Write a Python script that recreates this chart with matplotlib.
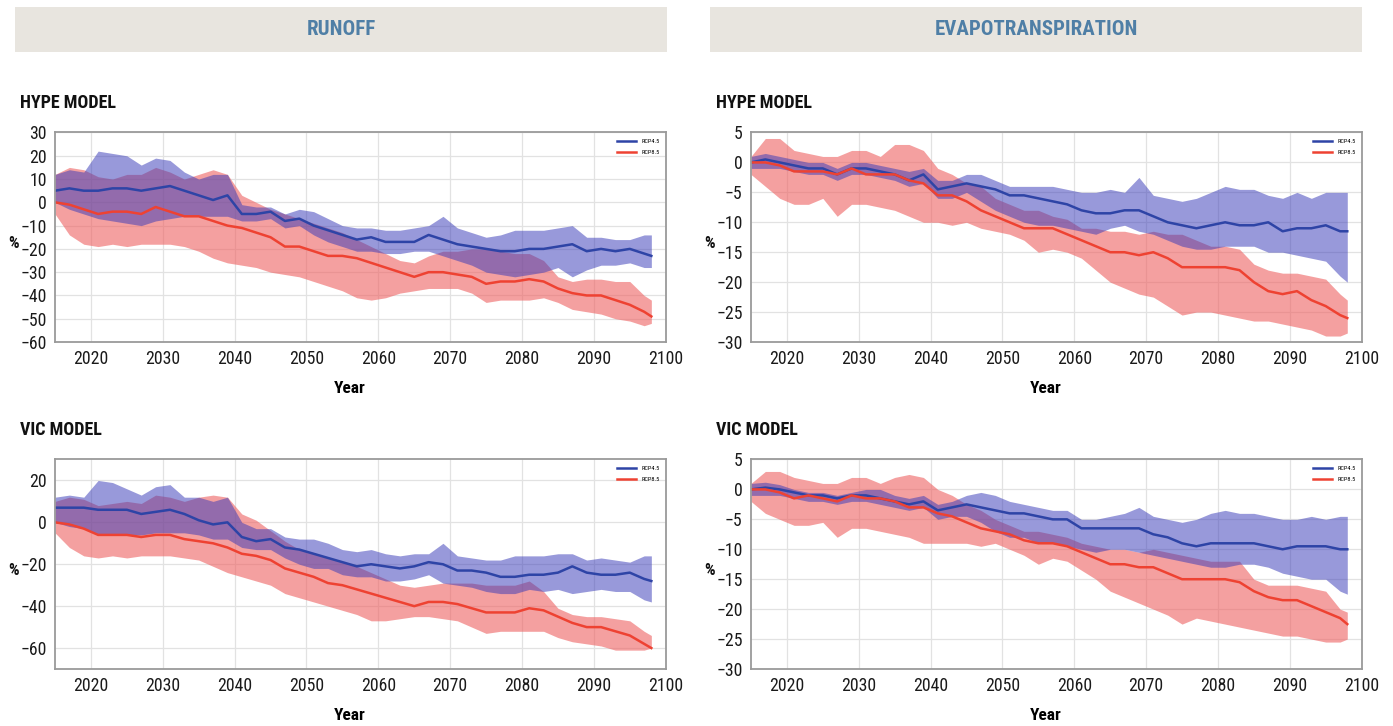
import matplotlib
matplotlib.use("Agg")
import matplotlib.pyplot as plt
from matplotlib import font_manager
from matplotlib.patches import Rectangle

# pick a narrow font if there is one
names = {f.name for f in font_manager.fontManager.ttflist}
FONT = "Roboto"
for cand in ["Roboto Condensed", "Liberation Sans Narrow", "Open Sans Condensed"]:
    if cand in names:
        FONT = cand
        break
plt.rcParams["font.family"] = [FONT, "DejaVu Sans"]

YEARS = list(range(2015, 2098, 2)) + [2098]

# ---- runoff, HYPE model ----
rh45_mid = [5, 6, 5, 5, 6, 6, 5, 6, 7, 5, 3, 1, 3, -5, -5, -4, -8, -7, -10, -12, -14,
            -16, -15, -17, -17, -17, -14, -16, -18, -19, -20, -21, -21, -20, -20, -19,
            -18, -21, -20, -21, -20, -22, -23]
rh45_hi = [12, 14, 13, 22, 21, 20, 16, 19, 18, 13, 10, 12, 12, -1, -2, -2, -5, -3, -4,
           -7, -10, -11, -11, -12, -12, -11, -10, -6, -11, -13, -15, -14, -12, -12, -12,
           -11, -10, -15, -15, -16, -16, -14, -14]
rh45_lo = [0, -3, -5, -7, -8, -9, -10, -8, -7, -6, -6, -6, -6, -8, -8, -7, -11, -10, -14,
           -17, -19, -21, -21, -22, -22, -21, -21, -23, -25, -27, -30, -31, -32, -31, -30,
           -28, -32, -29, -27, -27, -26, -28, -28]
rh85_mid = [0, -1, -3, -5, -4, -4, -5, -2, -4, -6, -6, -8, -10, -11, -13, -15, -19, -19,
            -21, -23, -23, -24, -26, -28, -30, -32, -30, -30, -31, -32, -35, -34, -34,
            -33, -34, -37, -39, -40, -40, -42, -44, -47, -49]
rh85_hi = [12, 15, 14, 11, 10, 12, 12, 15, 13, 10, 12, 14, 12, 3, 0, -3, -5, -7, -9, -11,
           -13, -16, -19, -22, -25, -26, -23, -21, -21, -20, -20, -21, -22, -22, -25, -32,
           -34, -33, -33, -34, -34, -40, -42]
rh85_lo = [-5, -14, -18, -19, -18, -19, -18, -18, -18, -19, -21, -24, -26, -27, -28, -30,
           -31, -32, -34, -36, -38, -41, -42, -41, -39, -38, -37, -37, -37, -39, -43, -42,
           -42, -42, -41, -43, -46, -47, -48, -50, -51, -53, -52]

# ---- runoff, VIC model ----
rv45_mid = [7, 7, 7, 6, 6, 6, 4, 5, 6, 4, 1, -1, 0, -7, -9, -8, -12, -13, -15, -17, -19,
            -21, -20, -21, -22, -21, -19, -20, -23, -23, -24, -26, -26, -25, -25, -24,
            -21, -24, -25, -25, -24, -27, -28]
rv45_hi = [12, 13, 12, 20, 19, 16, 13, 17, 18, 12, 12, 10, 12, 0, -3, -3, -7, -8, -8, -10,
           -13, -14, -13, -15, -16, -15, -15, -10, -16, -17, -18, -18, -16, -16, -16, -15,
           -15, -18, -17, -18, -19, -16, -16]
rv45_lo = [0, -2, -3, -6, -6, -6, -6, -5, -5, -5, -6, -8, -8, -12, -13, -13, -17, -20,
           -22, -22, -25, -26, -26, -28, -28, -27, -25, -29, -30, -31, -33, -34, -34, -32,
           -33, -32, -34, -33, -32, -33, -33, -37, -38]
rv85_mid = [0, -1, -3, -6, -6, -6, -7, -6, -6, -8, -9, -10, -12, -15, -16, -18, -22, -24,
            -26, -29, -30, -32, -34, -36, -38, -40, -38, -38, -39, -41, -43, -43, -43,
            -41, -42, -45, -48, -50, -50, -52, -54, -58, -60]
rv85_hi = [10, 12, 11, 8, 9, 10, 9, 13, 12, 10, 12, 13, 12, 4, 1, -4, -9, -13, -15, -17,
           -19, -21, -24, -27, -30, -31, -30, -29, -29, -29, -30, -30, -30, -28, -33, -41,
           -44, -45, -45, -46, -47, -52, -54]
rv85_lo = [-5, -12, -16, -17, -16, -17, -16, -16, -16, -17, -18, -21, -24, -26, -28, -30,
           -34, -36, -38, -40, -42, -44, -47, -47, -46, -45, -45, -46, -47, -50, -53, -52,
           -52, -52, -52, -55, -57, -58, -59, -61, -61, -61, -60]

# ---- evapotranspiration, HYPE model ----
eh45_mid = [0, 0.5, 0, -0.5, -1, -1, -2, -1, -1, -1.5, -2, -3, -2, -4.5, -4, -3.5, -4,
            -4.5, -5.5, -5.5, -6, -6.5, -7, -8, -8.5, -8.5, -8, -8, -9, -10, -10.5, -11,
            -10.5, -10, -10.5, -10.5, -10, -11.5, -11, -11, -10.5, -11.5, -11.5]
eh45_hi = [1, 1.5, 1, 0.5, 0, 0, -1, 0, 0, -0.5, -1, -1.5, -1, -3, -3, -2, -2, -3, -4, -4,
           -4, -4, -4.5, -5, -5, -4.5, -5, -2.5, -5.5, -6, -6.5, -6, -5, -4, -4.5, -4.5,
           -5.5, -6, -5, -6, -5, -5, -5]
eh45_lo = [-1, -1, -1, -1.5, -2, -2, -3, -2, -2, -2.5, -3, -4, -3.5, -6, -6, -5, -6.5, -8,
           -9, -10, -10.5, -10.5, -11, -11.5, -12, -11, -10.5, -11.5, -12, -13, -14,
           -14.5, -14.5, -14, -14, -14, -15, -15, -15.5, -16, -16.5, -19, -20]
eh85_mid = [0, 0, -0.5, -1.5, -1.5, -1.5, -2, -1, -2, -2, -2, -3, -3.5, -5.5, -5.5, -6.5,
            -8, -9, -10, -11, -11, -11, -12, -13, -14, -15, -15, -15.5, -15, -16, -17.5,
            -17.5, -17.5, -17.5, -18, -20, -21.5, -22, -21.5, -23, -24, -25.5, -26]
eh85_hi = [1, 4, 4, 2, 1.5, 1, 1, 2, 2, 1, 3, 3, 2, -1, -2, -3.5, -4, -6, -7, -8, -8, -9,
           -9.5, -11, -11, -11.5, -11.5, -12, -11.5, -12, -12, -13, -14, -14, -14.5, -17,
           -18, -18.5, -18.5, -19, -19.5, -22, -23]
eh85_lo = [-2, -4, -6, -7, -7, -6, -9, -7, -7, -7.5, -8, -9, -10, -10, -10.5, -10, -11,
           -11.5, -12, -13, -15, -14.5, -15, -16, -18, -20, -21, -22, -22.5, -24, -25.5,
           -25, -25, -25.5, -26, -26.5, -26.5, -27, -27.5, -28, -29, -29, -28.5]

# ---- evapotranspiration, VIC model ----
ev45_mid = [0, 0.3, 0, -0.5, -1, -1, -1.5, -1, -1, -1.5, -2, -2.5, -2, -3.5, -3, -2.5,
            -3, -3.5, -4, -4, -4.5, -5, -5, -6.5, -6.5, -6.5, -6.5, -6.5, -7.5, -8, -9,
            -9.5, -9, -9, -9, -9, -9.5, -10, -9.5, -9.5, -9.5, -10, -10]
ev45_hi = [1, 1.2, 0.8, 0, -0.5, -0.5, -1, -0.5, 0, 0, -1, -1.5, -1, -2.5, -2, -1, -0.5,
           -1, -2, -2.5, -3, -3.5, -3.5, -5, -5, -4.5, -4, -3, -4.5, -5, -5.5, -5, -4,
           -3.5, -4, -4, -4.5, -5, -5, -4.5, -5, -4.5, -4.5]
ev45_lo = [-1, -1, -1, -1.5, -2, -2, -2.5, -2, -2, -2.5, -3, -3.5, -3, -5, -4.5, -4.5,
           -5.5, -7, -8, -8, -9, -9, -9.5, -10, -10.5, -10, -10, -10.5, -11, -11.5, -12,
           -12.5, -13, -13, -12.5, -12.5, -13, -14, -14.5, -15, -15, -17, -17.5]
ev85_mid = [0, 0, -0.5, -1.5, -1, -1.5, -2, -1, -1.5, -1.5, -2, -3, -3, -4, -4.5, -5.5,
            -6.5, -7, -7.5, -8.5, -9, -9, -9.5, -10.5, -11.5, -12.5, -12.5, -13, -13, -14,
            -15, -15, -15, -15, -15.5, -17, -18, -18.5, -18.5, -19.5, -20.5, -21.5, -22.5]
ev85_hi = [1, 3, 3, 2, 1.5, 1, 1, 2, 2, 1, 2, 2.5, 2, 0, -1, -2.5, -3.5, -5, -6, -7, -7,
           -7.5, -8, -9, -9.5, -10, -10, -10.5, -10, -10.5, -11, -11.5, -12, -12, -12,
           -15, -16, -16, -16, -16.5, -17, -20, -20.5]
ev85_lo = [-2, -4, -5, -6, -6, -5.5, -8, -6.5, -6.5, -7, -7.5, -8, -9, -9, -9, -9, -9.5,
           -9, -10, -11, -12.5, -11.5, -12, -13.5, -15, -17, -18, -19, -20, -21, -22.5,
           -21.5, -22, -22.5, -23, -23.5, -24, -24.5, -24.5, -25, -25.5, -25.5, -25]

BLUE = "#2e44a6"
RED = "#ee4232"
BLUE_FILL = "#3a3cb8"
RED_FILL = "#ee6161"


def draw_panel(ax, s45, s85, ylim, yticks):
    mid45, lo45, hi45 = s45
    mid85, lo85, hi85 = s85
    ax.fill_between(YEARS, lo85, hi85, color=RED_FILL, alpha=0.6, lw=0)
    ax.fill_between(YEARS, lo45, hi45, color=BLUE_FILL, alpha=0.52, lw=0)
    ax.plot(YEARS, mid45, color=BLUE, lw=1.8, label="RCP4.5")
    ax.plot(YEARS, mid85, color=RED, lw=1.8, label="RCP8.5")

    ax.set_xlim(2015, 2100)
    ax.set_ylim(*ylim)
    ax.set_xticks(range(2020, 2101, 10))
    ax.set_yticks(yticks)
    ax.grid(True, color="#e2e2e2", lw=0.9)
    ax.set_axisbelow(True)
    for sp in ax.spines.values():
        sp.set_color("#9a9a9a")
        sp.set_linewidth(1.3)
    ax.tick_params(length=0, labelsize=12.8, colors="#1a1a1a", pad=6)
    ax.set_xlabel("Year", fontsize=12.5, fontweight="bold")
    ax.xaxis.set_label_coords(0.483, -0.185)
    ax.legend(loc="upper right", fontsize=4.5, frameon=False, handlelength=3,
              borderaxespad=0.6, labelspacing=0.9)


fig = plt.figure(figsize=(13.93, 7.26), dpi=100)

# header boxes
for x0, title in [(0.0108, "RUNOFF"), (0.5097, "EVAPOTRANSPIRATION")]:
    fig.patches.append(Rectangle((x0, 0.9284), 0.468, 0.062, transform=fig.transFigure,
                                 facecolor="#e8e5df", edgecolor="none"))
    fig.text(x0 + 0.234, 0.9594, title, ha="center", va="center", fontsize=15,
             fontweight="bold", color="#4f7fa6")

LEFT_X, RIGHT_X, W = 0.0395, 0.5391, 0.4384
TOP_Y, BOT_Y, H = 0.5289, 0.0785, 0.2886

panels = [
    (LEFT_X, TOP_Y, "HYPE MODEL", (rh45_mid, rh45_lo, rh45_hi), (rh85_mid, rh85_lo, rh85_hi),
     (-60, 30), range(-60, 31, 10)),
    (LEFT_X, BOT_Y, "VIC MODEL", (rv45_mid, rv45_lo, rv45_hi), (rv85_mid, rv85_lo, rv85_hi),
     (-70, 30), range(-60, 21, 20)),
    (RIGHT_X, TOP_Y, "HYPE MODEL", (eh45_mid, eh45_lo, eh45_hi), (eh85_mid, eh85_lo, eh85_hi),
     (-30, 5), range(-30, 6, 5)),
    (RIGHT_X, BOT_Y, "VIC MODEL", (ev45_mid, ev45_lo, ev45_hi), (ev85_mid, ev85_lo, ev85_hi),
     (-30, 5), range(-30, 6, 5)),
]

for x0, y0, name, s45, s85, ylim, yticks in panels:
    ax = fig.add_axes([x0, y0, W, H])
    draw_panel(ax, s45, s85, ylim, yticks)
    fig.text(x0 - 0.025, y0 + H + 0.041, name, ha="left", va="center", fontsize=13,
             fontweight="bold", color="#111111")
    fig.text(x0 - 0.030, y0 + H * 0.47, "%", ha="center", va="center", fontsize=12,
             fontweight="bold", color="#111111")

fig.savefig("out.png", dpi=100)
